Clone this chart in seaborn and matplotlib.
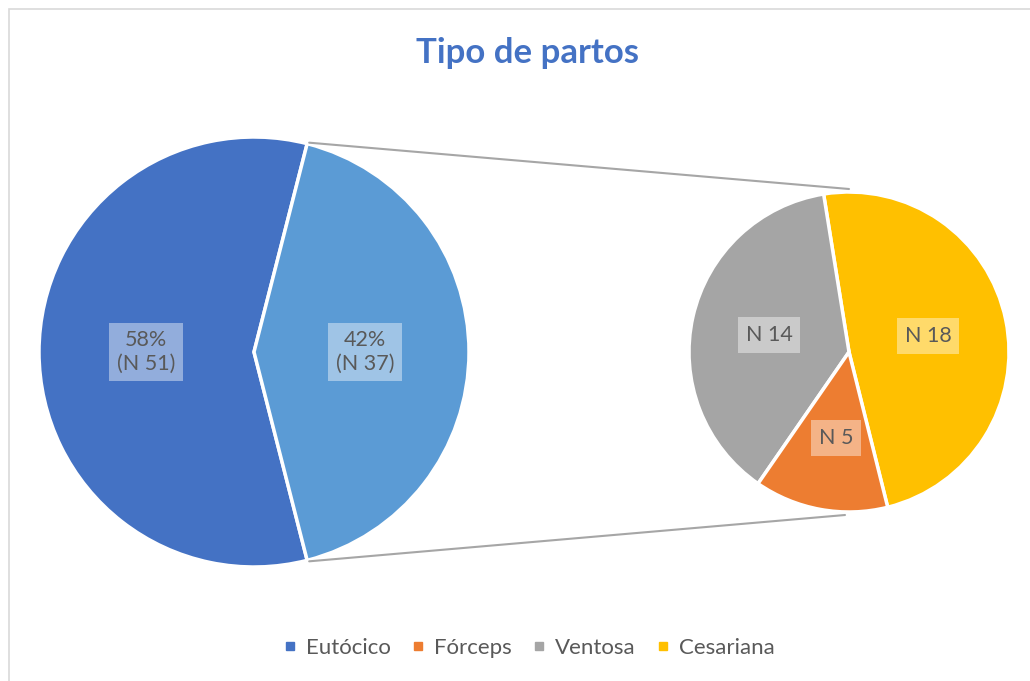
import numpy as np
import matplotlib
matplotlib.use("Agg")
import matplotlib.pyplot as plt
import seaborn as sns
from matplotlib.patches import Rectangle
from matplotlib.lines import Line2D

sns.set_theme(style="white")
plt.rcParams['font.family'] = ['Lato', 'DejaVu Sans']

# Data
categories = ["Eutócico", "Fórceps", "Ventosa", "Cesariana"]
counts = [51, 5, 14, 18]
main_labels = ["58%\n(N 51)", "42%\n(N 37)"]
colors = sns.color_palette(["#4472C4", "#ED7D31", "#A5A5A5", "#FFC000"])
other_color = "#5B9BD5"
title = "Tipo de partos"

W, H = 1030, 681
fig = plt.figure(figsize=(W / 100, H / 100), dpi=100)
ax = fig.add_axes([0, 0, 1, 1])

def py(y):
    return H - y

# main pie
other = sum(counts[1:])
total = counts[0] + other
c1 = (254, py(352)); r1 = 215
start1 = 180 * other / total
ax.pie([counts[0], other], colors=[colors[0], other_color], startangle=start1,
       center=c1, radius=r1, frame=True,
       wedgeprops=dict(edgecolor="white", linewidth=2.5))

# second pie: Cesariana, Ventosa, Fórceps (counter-clockwise)
c2 = (849, py(352)); r2 = 160
sec_vals = [counts[3], counts[2], counts[1]]
sec_cols = [colors[3], colors[2], colors[1]]
ax.pie(sec_vals, colors=sec_cols, startangle=-76, center=c2, radius=r2,
       frame=True, wedgeprops=dict(edgecolor="white", linewidth=2.5))
ax.set_xlim(0, W)
ax.set_ylim(0, H)
ax.set_aspect("auto")
ax.axis("off")

# frame
ax.add_patch(Rectangle((8.5, -20), W + 40, py(8.5) + 20, fill=False,
                       edgecolor="#D9D9D9", lw=1.2))

# connector lines
a = np.deg2rad(start1)
top1 = (c1[0] + r1 * np.cos(a), c1[1] + r1 * np.sin(a))
bot1 = (c1[0] + r1 * np.cos(a), c1[1] - r1 * np.sin(a))
ax.plot([top1[0] + 2, c2[0]], [top1[1] + 1, c2[1] + r2 + 3], color="#A6A6A6", lw=1.5)
ax.plot([bot1[0] + 2, c2[0] - 4], [bot1[1] - 1, c2[1] - r2 - 3], color="#A6A6A6", lw=1.5)

# labels
tc = "#595959"
def lab(x, y, s):
    ax.text(x, py(y), s, ha="center", va="center", fontsize=15.5, color=tc,
            linespacing=1.2,
            bbox=dict(boxstyle="square,pad=0.35", fc="white", ec="none", alpha=0.42))

lab(146, 352, main_labels[0])
lab(365, 352, main_labels[1])
lab(769, 335, f"N {counts[2]}")
lab(928, 336, f"N {counts[3]}")
lab(836, 438, f"N {counts[1]}")

# title
ax.text(527, py(53), title, ha="center", va="center", fontsize=25,
        fontweight="bold", color="#4472C4")

# legend
handles = [Line2D([], [], marker="s", ls="none", color=c, markersize=5.5) for c in colors]
fig.legend(handles, categories, loc="center", bbox_to_anchor=(529 / W, 1 - 648 / H),
           ncol=4, frameon=False, fontsize=16, labelcolor=tc,
           handlelength=0.6, handletextpad=0.4, columnspacing=0.95)

fig.savefig("out.png", dpi=100)
